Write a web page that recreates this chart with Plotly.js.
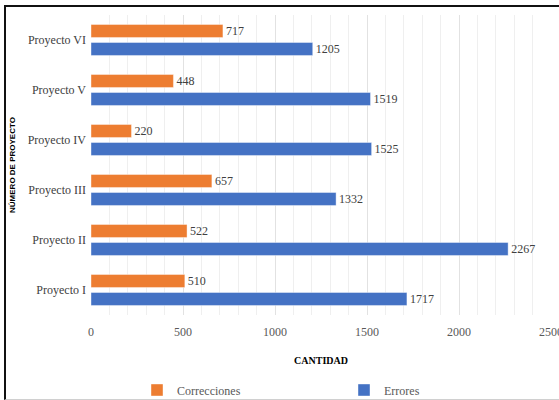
<!DOCTYPE html>
<html>
<head>
<meta charset="utf-8">
<script src="https://cdn.plot.ly/plotly-3.0.1.min.js"></script>
<style>
html,body{margin:0;padding:0;background:#fff;}
#wrap{position:relative;width:559px;height:400px;overflow:hidden;}
#chart{width:559px;height:400px;}
#frame{position:absolute;left:4px;top:5px;width:700px;height:392px;border-left:2px solid #111;border-top:2px solid #111;border-bottom:1px solid #d0d0d0;pointer-events:none;}
</style>
</head>
<body>
<div id="wrap"><div id="chart"></div><div id="frame"></div></div>
<script>
const categories = ["Proyecto I","Proyecto II","Proyecto III","Proyecto IV","Proyecto V","Proyecto VI"];
const correcciones = [510, 522, 657, 220, 448, 717];
const errores = [1717, 2267, 1332, 1525, 1519, 1205];
const xTickVals = [0, 500, 1000, 1500, 2000, 2500];

const serif = "Liberation Serif";
const labelFont = {family: serif, size: 12, color: "#404040"};

const traces = [
  {
    type: "bar", orientation: "h", name: "Errores",
    y: categories, x: errores,
    marker: {color: "#4472C4", line: {color: "rgba(255,255,255,0.5)", width: 0.8}},
    text: errores.map(String), textposition: "outside", textfont: labelFont,
    constraintext: "none", cliponaxis: false, legendrank: 2, hoverinfo: "x"
  },
  {
    type: "bar", orientation: "h", name: "Correcciones",
    y: categories, x: correcciones,
    marker: {color: "#ED7D31", line: {color: "rgba(255,255,255,0.5)", width: 0.8}},
    text: correcciones.map(String), textposition: "outside", textfont: labelFont,
    constraintext: "none", cliponaxis: false, legendrank: 1, hoverinfo: "x"
  }
];

const layout = {
  width: 559, height: 400,
  margin: {l: 91, r: 8, t: 15, b: 85, autoexpand: false},
  paper_bgcolor: "#fff", plot_bgcolor: "#fff",
  barmode: "group", bargap: 0.28, bargroupgap: 0.28,
  font: {family: serif, size: 12, color: "#595959"},
  showlegend: true,
  legend: {
    orientation: "h", x: 0.1, xanchor: "left", y: -0.25, yanchor: "middle",
    entrywidth: 162, entrywidthmode: "pixels",
    font: {family: serif, size: 12, color: "#595959"},
    itemwidth: 30
  },
  xaxis: {
    range: [0, 2500], tickvals: xTickVals, ticktext: xTickVals.map(String),
    showgrid: true, gridcolor: "#e2e2e2", gridwidth: 1,
    minor: {dtick: 100, showgrid: true, gridcolor: "#efefef", gridwidth: 1},
    zeroline: false, showline: false, ticks: "",
    ticklabelstandoff: 8, ticklabeloverflow: "allow",
    tickfont: {family: serif, size: 12, color: "#595959"},
    title: {text: "<b>CANTIDAD</b>", font: {family: serif, size: 10, color: "#000"}, standoff: 18}
  },
  yaxis: {
    type: "category", categoryorder: "array", categoryarray: categories,
    showgrid: false, zeroline: false, showline: false, ticks: "",
    tickfont: {family: serif, size: 12, color: "#404040"},
    ticklabelstandoff: 4,
    title: {text: "<b>NÚMERO DE PROYECTO</b>", font: {family: "Liberation Sans", size: 8, color: "#000"}, standoff: 10}
  }
};

Plotly.newPlot("chart", traces, layout, {displayModeBar: false, staticPlot: true});
</script>
</body>
</html>
